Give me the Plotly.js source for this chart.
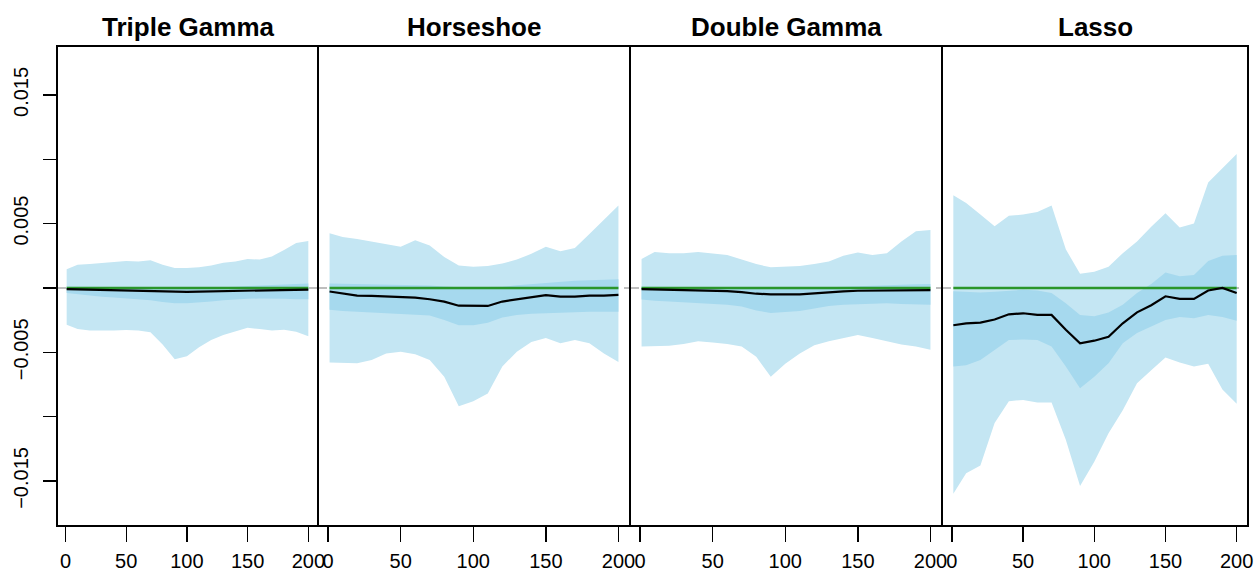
<!DOCTYPE html>
<html>
<head>
<meta charset="utf-8">
<script src="https://cdn.plot.ly/plotly-3.0.1.min.js"></script>
<style>
  html, body { margin: 0; padding: 0; background: #fff; }
  #chart { width: 1255px; height: 573px; }
</style>
</head>
<body>
<div id="chart"></div>
<script>
// Time index at which the posterior summaries are tabulated
const timeIndex = [1, 10, 20, 30, 40, 50, 60, 70, 80, 90, 100, 110, 120, 130, 140, 150, 160, 170, 180, 190, 200];

// Prior names, one panel each
const priorNames = ["Triple Gamma", "Horseshoe", "Double Gamma", "Lasso"];

// True value of the coefficient
const trueValue = 0;

// Triple Gamma: outer / inner credible bands and posterior median
const tgOuterUpper = [0.00145, 0.00180, 0.00185, 0.00195, 0.00200, 0.00210, 0.00205, 0.00215, 0.00180, 0.00155, 0.00155, 0.00160, 0.00175, 0.00195, 0.00205, 0.00225, 0.00220, 0.00245, 0.00295, 0.00350, 0.00365];
const tgInnerUpper = [0.00010, 0.00010, 0.00010, 0.00010, 0.00008, 0.00005, 0.00005, 0.00002, 0.00000, -0.00002, -0.00002, 0.00000, 0.00002, 0.00005, 0.00010, 0.00015, 0.00020, 0.00025, 0.00030, 0.00032, 0.00035];
const tgMedian     = [-0.00010, -0.00012, -0.00013, -0.00015, -0.00015, -0.00017, -0.00020, -0.00022, -0.00028, -0.00030, -0.00030, -0.00028, -0.00026, -0.00025, -0.00022, -0.00020, -0.00018, -0.00017, -0.00015, -0.00015, -0.00013];
const tgInnerLower = [-0.00040, -0.00050, -0.00060, -0.00068, -0.00075, -0.00080, -0.00085, -0.00095, -0.00110, -0.00120, -0.00120, -0.00115, -0.00105, -0.00095, -0.00088, -0.00085, -0.00082, -0.00082, -0.00085, -0.00088, -0.00088];
const tgOuterLower = [-0.00287, -0.00320, -0.00330, -0.00332, -0.00330, -0.00327, -0.00330, -0.00345, -0.00440, -0.00555, -0.00530, -0.00460, -0.00405, -0.00365, -0.00335, -0.00310, -0.00320, -0.00330, -0.00325, -0.00340, -0.00375];

// Horseshoe
const hsOuterUpper = [0.00425, 0.00395, 0.00380, 0.00360, 0.00345, 0.00320, 0.00370, 0.00330, 0.00240, 0.00175, 0.00165, 0.00170, 0.00190, 0.00220, 0.00265, 0.00320, 0.00285, 0.00310, 0.00420, 0.00530, 0.00640];
const hsInnerUpper = [0.00035, 0.00033, 0.00030, 0.00028, 0.00025, 0.00022, 0.00020, 0.00018, 0.00012, 0.00005, 0.00005, 0.00005, 0.00010, 0.00020, 0.00030, 0.00040, 0.00050, 0.00055, 0.00060, 0.00065, 0.00068];
const hsMedian     = [-0.00028, -0.00041, -0.00060, -0.00062, -0.00067, -0.00072, -0.00075, -0.00088, -0.00106, -0.00138, -0.00140, -0.00140, -0.00106, -0.00088, -0.00075, -0.00056, -0.00067, -0.00067, -0.00060, -0.00060, -0.00054];
const hsInnerLower = [-0.00170, -0.00180, -0.00185, -0.00190, -0.00195, -0.00200, -0.00205, -0.00215, -0.00250, -0.00290, -0.00290, -0.00270, -0.00230, -0.00210, -0.00200, -0.00195, -0.00190, -0.00185, -0.00185, -0.00185, -0.00185];
const hsOuterLower = [-0.00580, -0.00585, -0.00585, -0.00560, -0.00510, -0.00495, -0.00515, -0.00560, -0.00690, -0.00920, -0.00880, -0.00820, -0.00610, -0.00495, -0.00420, -0.00390, -0.00430, -0.00405, -0.00430, -0.00510, -0.00575];

// Double Gamma
const dgOuterUpper = [0.00225, 0.00280, 0.00270, 0.00270, 0.00280, 0.00270, 0.00255, 0.00220, 0.00185, 0.00160, 0.00165, 0.00170, 0.00185, 0.00205, 0.00250, 0.00275, 0.00255, 0.00270, 0.00360, 0.00440, 0.00450];
const dgInnerUpper = [0.00010, 0.00010, 0.00010, 0.00008, 0.00006, 0.00005, 0.00003, 0.00000, -0.00005, -0.00005, -0.00005, -0.00003, 0.00000, 0.00005, 0.00010, 0.00015, 0.00020, 0.00022, 0.00025, 0.00028, 0.00030];
const dgMedian     = [-0.00010, -0.00012, -0.00013, -0.00015, -0.00017, -0.00020, -0.00025, -0.00033, -0.00045, -0.00050, -0.00052, -0.00050, -0.00042, -0.00033, -0.00027, -0.00022, -0.00020, -0.00020, -0.00018, -0.00018, -0.00017];
const dgInnerLower = [-0.00090, -0.00100, -0.00105, -0.00110, -0.00115, -0.00120, -0.00130, -0.00145, -0.00175, -0.00195, -0.00190, -0.00180, -0.00160, -0.00140, -0.00130, -0.00125, -0.00120, -0.00120, -0.00125, -0.00130, -0.00130];
const dgOuterLower = [-0.00455, -0.00455, -0.00450, -0.00435, -0.00415, -0.00425, -0.00435, -0.00455, -0.00535, -0.00690, -0.00590, -0.00510, -0.00445, -0.00415, -0.00390, -0.00365, -0.00390, -0.00415, -0.00440, -0.00455, -0.00480];

// Lasso
const laOuterUpper = [0.00720, 0.00660, 0.00570, 0.00480, 0.00560, 0.00570, 0.00590, 0.00640, 0.00300, 0.00110, 0.00125, 0.00165, 0.00270, 0.00360, 0.00475, 0.00580, 0.00470, 0.00500, 0.00820, 0.00930, 0.01040];
const laInnerUpper = [-0.00025, -0.00030, -0.00035, -0.00030, -0.00020, -0.00015, -0.00020, -0.00040, -0.00120, -0.00210, -0.00220, -0.00190, -0.00130, -0.00040, 0.00030, 0.00120, 0.00090, 0.00100, 0.00210, 0.00250, 0.00255];
const laMedian     = [-0.00290, -0.00275, -0.00270, -0.00245, -0.00205, -0.00197, -0.00210, -0.00210, -0.00325, -0.00430, -0.00410, -0.00380, -0.00275, -0.00190, -0.00135, -0.00065, -0.00085, -0.00085, -0.00020, 0.00000, -0.00040];
const laInnerLower = [-0.00610, -0.00600, -0.00560, -0.00480, -0.00405, -0.00400, -0.00405, -0.00455, -0.00610, -0.00780, -0.00690, -0.00585, -0.00430, -0.00350, -0.00300, -0.00250, -0.00225, -0.00235, -0.00210, -0.00225, -0.00255];
const laOuterLower = [-0.01600, -0.01440, -0.01380, -0.01050, -0.00880, -0.00870, -0.00890, -0.00890, -0.01180, -0.01540, -0.01350, -0.01130, -0.00950, -0.00740, -0.00640, -0.00540, -0.00580, -0.00610, -0.00590, -0.00790, -0.00900];

// Y-axis ticks (only every other one carries a label)
const yTickValues = [-0.015, -0.01, -0.005, 0, 0.005, 0.01, 0.015];
const yTickLabels = ["\u22120.015", "", "\u22120.005", "", "0.005", "", "0.015"];
const xTickValues = [0, 50, 100, 150, 200];
const xTickLabels = ["0", "50", "100", "150", "200"];

const panels = [
  { outerUpper: tgOuterUpper, innerUpper: tgInnerUpper, median: tgMedian, innerLower: tgInnerLower, outerLower: tgOuterLower },
  { outerUpper: hsOuterUpper, innerUpper: hsInnerUpper, median: hsMedian, innerLower: hsInnerLower, outerLower: hsOuterLower },
  { outerUpper: dgOuterUpper, innerUpper: dgInnerUpper, median: dgMedian, innerLower: dgInnerLower, outerLower: dgOuterLower },
  { outerUpper: laOuterUpper, innerUpper: laInnerUpper, median: laMedian, innerLower: laInnerLower, outerLower: laOuterLower }
];

const W = 1255, H = 573;
const panelEdgesPx = [57, 318, 630, 942, 1248];
const plotTopPx = 46, plotBottomPx = 526;

const outerColor = "#C4E6F3";
const innerColor = "#A6D9EE";
const truthColor = "#2A962A";
const font = "Liberation Sans, Arial, sans-serif";

const traces = [];
const layout = {
  width: W, height: H,
  margin: { l: 0, r: 0, t: 0, b: 0 },
  paper_bgcolor: "#ffffff",
  plot_bgcolor: "#ffffff",
  showlegend: false,
  shapes: [],
  annotations: []
};

const yDomain = [1 - plotBottomPx / H, 1 - plotTopPx / H];

panels.forEach((p, i) => {
  const n = i === 0 ? "" : String(i + 1);
  const xa = "x" + n, ya = "y" + n;

  traces.push({ x: timeIndex, y: p.outerUpper, xaxis: xa, yaxis: ya, mode: "lines",
    line: { width: 0, color: outerColor }, hoverinfo: "skip" });
  traces.push({ x: timeIndex, y: p.outerLower, xaxis: xa, yaxis: ya, mode: "lines",
    line: { width: 0, color: outerColor }, fill: "tonexty", fillcolor: outerColor, hoverinfo: "skip" });
  traces.push({ x: timeIndex, y: p.innerUpper, xaxis: xa, yaxis: ya, mode: "lines",
    line: { width: 0, color: innerColor }, hoverinfo: "skip" });
  traces.push({ x: timeIndex, y: p.innerLower, xaxis: xa, yaxis: ya, mode: "lines",
    line: { width: 0, color: innerColor }, fill: "tonexty", fillcolor: innerColor, hoverinfo: "skip" });
  traces.push({ x: [timeIndex[0], timeIndex[timeIndex.length - 1]], y: [trueValue, trueValue],
    xaxis: xa, yaxis: ya, mode: "lines", line: { width: 2.4, color: truthColor }, hoverinfo: "skip" });
  traces.push({ x: timeIndex, y: p.median, xaxis: xa, yaxis: ya, mode: "lines",
    line: { width: 2.2, color: "#000000" }, hoverinfo: "skip" });

  layout["xaxis" + n] = {
    domain: [panelEdgesPx[i] / W, panelEdgesPx[i + 1] / W],
    anchor: ya,
    range: [-6.96, 207.96],
    showgrid: false, zeroline: false, showline: false,
    ticks: "outside", ticklen: 15, tickwidth: 1.3, tickcolor: "#000",
    tickvals: xTickValues, ticktext: xTickLabels,
    ticklabelstandoff: 2,
    tickfont: { family: font, size: 20, color: "#000" }
  };
  layout["yaxis" + n] = {
    domain: yDomain,
    anchor: xa,
    range: [-0.0185, 0.0188],
    showgrid: false, zeroline: false, showline: false,
    tickvals: yTickValues, ticktext: yTickLabels,
    ticks: i === 0 ? "outside" : "",
    showticklabels: i === 0,
    ticklen: 13, tickwidth: 1.3, tickcolor: "#000",
    tickangle: -90,
    ticklabelstandoff: 7,
    tickfont: { family: font, size: 20, color: "#000" }
  };

  // dashed reference line at zero across the panel
  layout.shapes.push({ type: "line", xref: xa + " domain", yref: ya, x0: 0, x1: 1, y0: 0, y1: 0,
    line: { color: "#BEBEBE", width: 2, dash: "dash" }, layer: "below" });
  // panel frame
  layout.shapes.push({ type: "rect", xref: xa + " domain", yref: ya + " domain", x0: 0, x1: 1, y0: 0, y1: 1,
    line: { color: "#000", width: 2 }, layer: "above" });

  layout.annotations.push({
    text: "<b>" + priorNames[i] + "</b>", xref: xa + " domain", yref: "paper",
    x: 0.5, y: 1 - 27 / H, xanchor: "center", yanchor: "middle", showarrow: false,
    font: { family: font, size: 26, color: "#000" }
  });
});

Plotly.newPlot("chart", traces, layout, { staticPlot: true, displayModeBar: false });
</script>
</body>
</html>
